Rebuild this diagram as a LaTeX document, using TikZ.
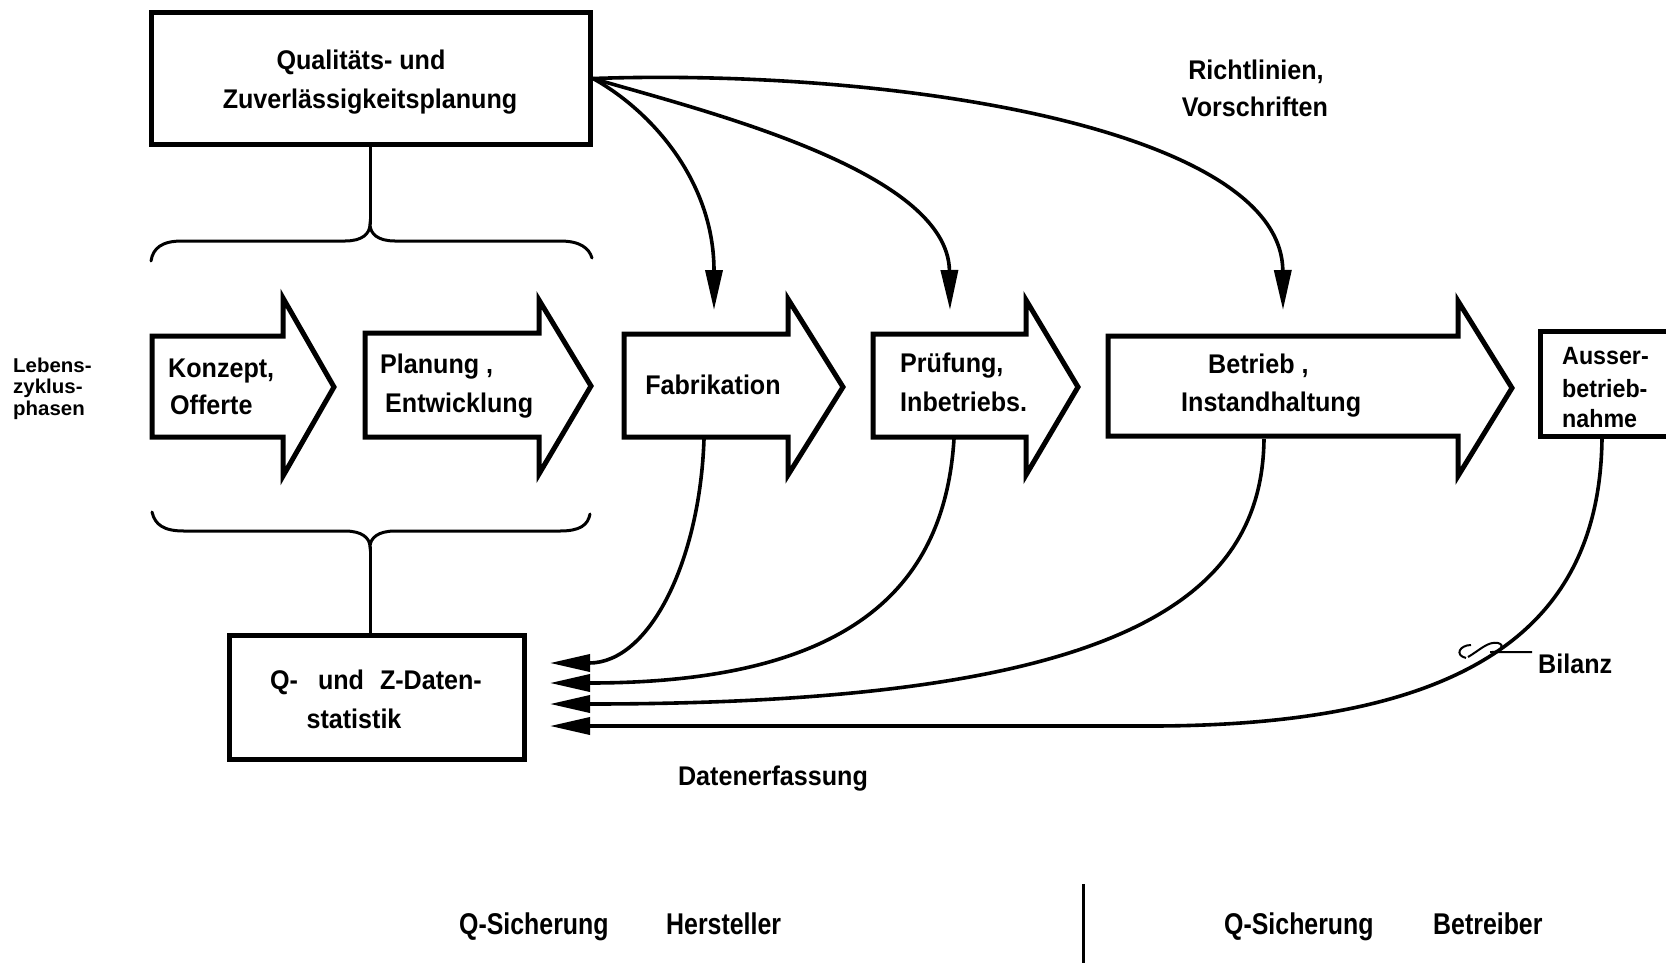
\documentclass[tikz,border=0pt]{standalone}
\usepackage{fontspec}
\setmainfont{Liberation Sans}[FakeStretch=0.93]
\newfontfamily\narrowfont{Liberation Sans}[FakeStretch=0.83]
\usetikzlibrary{arrows.meta}

\begin{document}
\begin{tikzpicture}[x=1pt,y=-1pt,
  frame/.style={draw, line width=5pt, line join=miter, inner sep=0pt},
  phase/.style={draw, line width=5pt, line join=miter, fill=white},
  link/.style={line width=3.6pt, -{Triangle[length=40pt,width=17pt]}},
  brace/.style={line width=3pt, line cap=round},
  txt/.style={inner sep=0pt, font=\fontsize{27}{30}\selectfont\bfseries,
    text height=19pt, text depth=0pt},
  small/.style={inner sep=0pt, font=\fontsize{20}{20}\selectfont\bfseries,
    text height=14pt, text depth=0pt, anchor=west},
  foot/.style={inner sep=0pt, font=\narrowfont\fontsize{30}{32}\selectfont\bfseries,
    text height=22pt, text depth=0pt, anchor=west}
]
\useasboundingbox (0,0) rectangle (1666,962);

% planning box and statistics box
\node[frame, minimum width=439pt, minimum height=132pt] (plan) at (371,78.5) {};
\node[txt] (plan1) at (361,60) {Qualitäts- und};
\node[txt] (plan2) at (370,99) {Zuverlässigkeitsplanung};

\node[frame, minimum width=295pt, minimum height=124pt] (stat) at (377,697) {};
\node[txt] (stat1) at (376,680) {Q-\hspace{20pt}und\hspace{16pt}Z-Daten-};
\node[txt] (stat2) at (354,719) {statistik};

% life cycle phases
\node[small, xscale=1.1] (lz1) at (13,365) {Lebens-};
\node[small, xscale=1.1] (lz2) at (13,386) {zyklus-};
\node[small, xscale=1.1] (lz3) at (13,408) {phasen};

\draw[phase] (152,336) -- (283,336) -- (283,298) -- (334,387) -- (283,476) -- (283,437) -- (152,437) -- cycle;
\node[txt, anchor=west] (konz1) at (168,368) {Konzept,};
\node[txt, anchor=west] (konz2) at (170,405) {Offerte};

\draw[phase] (365,333) -- (539,333) -- (539,300) -- (591,386) -- (539,474) -- (539,437) -- (365,437) -- cycle;
\node[txt, anchor=west] (plg1) at (380,364) {Planung ,};
\node[txt, anchor=west] (plg2) at (385,403) {Entwicklung};

\draw[phase] (624,334) -- (788,334) -- (788,299) -- (843,387) -- (788,475) -- (788,437) -- (624,437) -- cycle;
\node[txt] (fab) at (713,385) {Fabrikation};

\draw[phase] (873,334) -- (1026,334) -- (1026,300) -- (1078,387) -- (1026,475) -- (1026,437) -- (873,437) -- cycle;
\node[txt, anchor=west] (prf1) at (900,363) {Prüfung,};
\node[txt, anchor=west] (prf2) at (900,402) {Inbetriebs.};

\draw[phase] (1108,336) -- (1458,336) -- (1458,301) -- (1512,388) -- (1458,476) -- (1458,436) -- (1108,436) -- cycle;
\node[txt, anchor=west] (bet1) at (1208,364) {Betrieb ,};
\node[txt, anchor=west] (bet2) at (1181,402) {Instandhaltung};

\draw[phase] (1668,331) -- (1540,331) -- (1540,436) -- (1668,436);
\node[txt, anchor=west, font=\fontsize{25}{28}\selectfont\bfseries] (aus1) at (1562,355) {Ausser-};
\node[txt, anchor=west, font=\fontsize{25}{28}\selectfont\bfseries] (aus2) at (1562,388) {betrieb-};
\node[txt, anchor=west, font=\fontsize{25}{28}\selectfont\bfseries] (aus3) at (1562,418) {nahme};

% braces
\coordinate (btop) at (370,224);
\coordinate (bbot) at (370,547);
\draw[brace] (plan.south -| btop) -- (btop);
\draw[brace] (151,261) .. controls (153,248) and (162,241) .. (182,241) -- (345,241)
  .. controls (362,241) and (370,234) .. (btop)
  .. controls (370,234) and (378,241) .. (395,241) -- (560,241)
  .. controls (580,241) and (589,248) .. (592,258);
\draw[brace] (152,512) .. controls (155,525) and (164,531) .. (184,531) -- (345,531)
  .. controls (362,531) and (370,538) .. (bbot)
  .. controls (370,538) and (378,531) .. (395,531) -- (560,531)
  .. controls (580,531) and (588,525) .. (590,514);
\draw[brace] (bbot) -- (bbot |- stat.north);

% guidelines flowing from planning into the phases
\node[txt] (richt1) at (1256,70) {Richtlinien,};
\node[txt] (richt2) at (1255,107) {Vorschriften};
\coordinate (fabIn) at (714,310);
\coordinate (prfIn) at (950,310);
\coordinate (betIn) at (1283,310);
\draw[link] (plan.east) .. controls (650,110) and (714,180) .. (fabIn);
\draw[link] (plan.east) .. controls (700,110) and (948,170) .. (prfIn);
\draw[link] (plan.east) .. controls (900,68) and (1282,130) .. (betIn);

% data collection back into the statistics
\coordinate (fabOut) at (704,439);
\coordinate (prfOut) at (954,439);
\coordinate (betOut) at (1264,439);
\coordinate (ausOut) at (1602,438);
\coordinate (d1) at (550,663);
\coordinate (d2) at (550,683);
\coordinate (d3) at (550,704);
\coordinate (d4) at (550,726);
\draw[link] (fabOut) .. controls (700,560) and (650,663) .. (d1);
\draw[link] (prfOut) .. controls (945,580) and (860,683) .. (d2);
\draw[link] (betOut) .. controls (1262,600) and (1120,704) .. (d3);
\draw[link] (ausOut) .. controls (1600,620) and (1480,726) .. (1150,726) -- (d4);
\node[txt] (daten) at (773,776) {Datenerfassung};

% balance mark
\node[txt, anchor=west] (bil) at (1538,664) {Bilanz};
\draw[line width=2pt] (1471,645) .. controls (1460,645) and (1454,655) .. (1466,658);
\draw[line width=2pt] (1468,657) .. controls (1480,650) and (1488,641) .. (1498,643)
  .. controls (1506,645) and (1500,653) .. (1490,652) -- ([xshift=-6pt]bil.west |- 0,652);

% manufacturer / operator split
\node[foot] (qs1) at (459,923) {Q-Sicherung};
\node[foot] (her) at (666,923) {Hersteller};
\node[foot] (qs2) at (1224,923) {Q-Sicherung};
\node[foot] (btr) at (1433,923) {Betreiber};
\coordinate (split) at (1083,884);
\draw[line width=3pt] (split) -- (split |- 0,970);
\end{tikzpicture}
\end{document}
